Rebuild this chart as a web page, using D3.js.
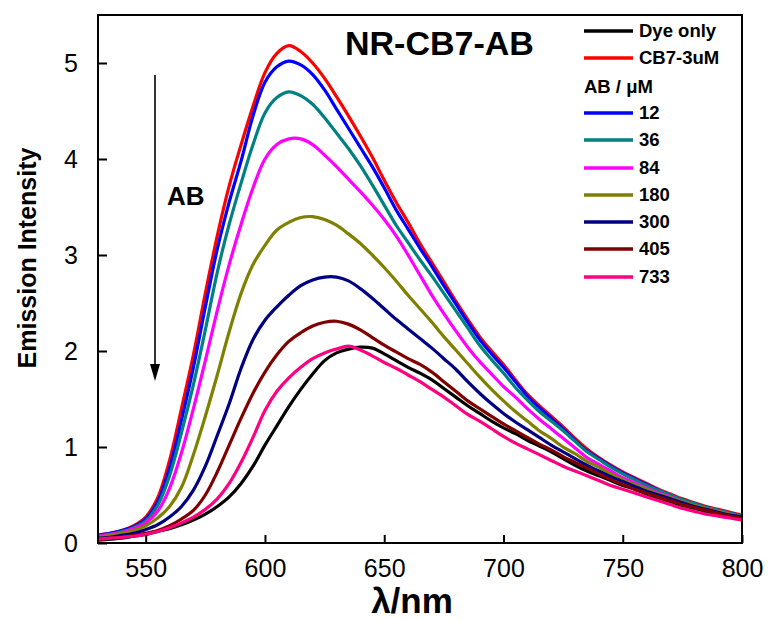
<!DOCTYPE html>
<html>
<head>
<meta charset="utf-8">
<script src="https://cdn.jsdelivr.net/npm/d3@7"></script>
<style>
  body { margin: 0; background: #fff; }
  svg text { font-family: "Liberation Sans", Arial, sans-serif; }
</style>
</head>
<body>
<svg id="chart" width="769" height="621"></svg>
<script>
// wavelength grid (nm)
var wavelengths = d3.range(530, 801, 5);

// emission intensity, one array per sample
var dyeOnly = [0.03,0.04,0.05,0.07,0.09,0.12,0.15,0.19,0.24,0.30,0.38,0.48,0.62,0.80,1.02, 1.22,1.42,1.60,1.76,1.90,1.98,2.02,2.04,2.03,1.97,1.90,1.83,1.77,1.70,1.61,1.52,1.43,1.35,1.27,1.20, 1.14,1.07,1.01,0.95,0.88,0.81,0.75,0.70,0.65,0.60,0.56,0.51,0.47,0.43,0.39,0.36,0.33,0.30,0.28,0.26];
var cb7 = [0.08,0.10,0.13,0.18,0.27,0.47,0.86,1.40,1.96,2.60,3.20,3.72,4.15,4.55,4.90, 5.10,5.18,5.12,5.00,4.84,4.65,4.45,4.24,4.02,3.78,3.55,3.34,3.12,2.92,2.72,2.52,2.33,2.15,2.00,1.86, 1.70,1.55,1.43,1.32,1.21,1.09,0.98,0.89,0.81,0.74,0.68,0.62,0.56,0.51,0.46,0.42,0.38,0.35,0.32,0.29];
var ab12 = [0.08,0.10,0.13,0.17,0.25,0.43,0.78,1.28,1.83,2.46,3.06,3.55,3.98,4.45,4.80, 4.96,5.02,4.98,4.88,4.72,4.52,4.32,4.12,3.92,3.70,3.47,3.27,3.07,2.88,2.68,2.49,2.30,2.12,1.97,1.83, 1.68,1.53,1.41,1.30,1.19,1.07,0.96,0.88,0.80,0.73,0.67,0.61,0.55,0.50,0.45,0.41,0.37,0.34,0.31,0.28];
var ab36 = [0.07,0.09,0.12,0.16,0.23,0.39,0.70,1.15,1.65,2.22,2.82,3.32,3.75,4.15,4.48, 4.64,4.70,4.66,4.57,4.43,4.27,4.11,3.93,3.73,3.52,3.31,3.13,2.95,2.78,2.60,2.42,2.24,2.06,1.91,1.77, 1.62,1.49,1.37,1.27,1.17,1.06,0.95,0.87,0.79,0.72,0.66,0.60,0.55,0.50,0.45,0.41,0.37,0.34,0.31,0.28];
var ab84 = [0.07,0.09,0.11,0.15,0.21,0.33,0.57,0.94,1.40,1.90,2.42,2.90,3.32,3.70,4.00, 4.15,4.21,4.21,4.15,4.04,3.92,3.79,3.66,3.52,3.37,3.20,3.00,2.79,2.58,2.39,2.21,2.04,1.89,1.76,1.63, 1.52,1.40,1.29,1.19,1.09,0.99,0.89,0.82,0.75,0.68,0.63,0.57,0.52,0.48,0.43,0.39,0.36,0.33,0.30,0.27];
var ab180 = [0.06,0.08,0.10,0.13,0.18,0.26,0.38,0.58,0.92,1.32,1.75,2.20,2.60,2.90,3.10, 3.26,3.34,3.39,3.40,3.37,3.31,3.22,3.12,3.00,2.87,2.73,2.58,2.44,2.30,2.15,2.01,1.87,1.73,1.60,1.48, 1.37,1.27,1.17,1.09,1.00,0.93,0.85,0.79,0.72,0.66,0.61,0.56,0.51,0.47,0.43,0.39,0.36,0.33,0.30,0.27];
var ab300 = [0.05,0.06,0.08,0.10,0.14,0.19,0.27,0.38,0.55,0.80,1.12,1.45,1.82,2.12,2.32, 2.46,2.58,2.68,2.74,2.77,2.77,2.73,2.65,2.55,2.44,2.33,2.23,2.13,2.03,1.92,1.81,1.68,1.56,1.45,1.35, 1.26,1.18,1.10,1.02,0.95,0.88,0.81,0.75,0.69,0.64,0.59,0.54,0.50,0.46,0.42,0.38,0.35,0.32,0.29,0.27];
var ab405 = [0.04,0.05,0.06,0.08,0.10,0.13,0.18,0.25,0.34,0.50,0.74,1.02,1.30,1.56,1.78, 1.96,2.10,2.19,2.26,2.30,2.31,2.28,2.22,2.14,2.06,1.99,1.92,1.86,1.78,1.68,1.58,1.48,1.40,1.32,1.24, 1.17,1.10,1.03,0.97,0.90,0.84,0.78,0.72,0.66,0.61,0.56,0.52,0.48,0.44,0.40,0.37,0.34,0.31,0.28,0.26];
var ab733 = [0.04,0.05,0.06,0.07,0.09,0.12,0.16,0.21,0.27,0.35,0.46,0.62,0.84,1.10,1.38, 1.58,1.72,1.83,1.92,1.98,2.02,2.05,2.01,1.95,1.88,1.82,1.75,1.68,1.60,1.52,1.43,1.34,1.27,1.19,1.11, 1.04,0.98,0.92,0.86,0.80,0.75,0.70,0.65,0.60,0.56,0.52,0.48,0.44,0.40,0.36,0.33,0.30,0.28,0.26,0.24];

var seriesNames = ["Dye only", "CB7-3uM", "12", "36", "84", "180", "300", "405", "733"];
var seriesColors = ["#000000", "#ff0000", "#0000ff", "#008080", "#ff00ff", "#808000", "#000080", "#800000", "#ff0080"];
var seriesValues = [dyeOnly, cb7, ab12, ab36, ab84, ab180, ab300, ab405, ab733];

var xTicks = [550, 600, 650, 700, 750, 800];
var yTicks = [0, 1, 2, 3, 4, 5];

var svg = d3.select("svg#chart");

// plot box (note: "top" is taken by window.top)
var plotL = 98, plotR = 742, plotT = 15, plotB = 543;

var x = d3.scaleLinear().domain([530, 800]).range([plotL, plotR]);
var y = d3.scaleLinear().domain([0, 5.5]).range([plotB, plotT]);

// curves
var line = d3.line()
    .x(function (d) { return x(d[0]); })
    .y(function (d) { return y(d[1]); })
    .curve(d3.curveCatmullRom.alpha(0.5));

svg.append("g")
    .selectAll("path")
    .data(seriesValues)
    .enter()
    .append("path")
    .attr("d", function (vals) {
        return line(wavelengths.map(function (w, i) { return [w, vals[i]]; }));
    })
    .attr("fill", "none")
    .attr("stroke", function (d, i) { return seriesColors[i]; })
    .attr("stroke-width", 3.2)
    .attr("stroke-linejoin", "round");

// frame
svg.append("rect")
    .attr("x", plotL).attr("y", plotT)
    .attr("width", plotR - plotL).attr("height", plotB - plotT)
    .attr("fill", "none").attr("stroke", "#000").attr("stroke-width", 2);

// axes, ticks pointing inward
var xAxis = svg.append("g")
    .attr("transform", "translate(0," + plotB + ")")
    .call(d3.axisBottom(x).tickValues(xTicks).tickSizeInner(-8).tickSizeOuter(0).tickPadding(16));
var yAxis = svg.append("g")
    .attr("transform", "translate(" + plotL + ",0)")
    .call(d3.axisLeft(y).tickValues(yTicks).tickFormat(d3.format("d"))
        .tickSizeInner(-9).tickSizeOuter(0).tickPadding(20));

[xAxis, yAxis].forEach(function (g) {
    g.select(".domain").remove();
    g.selectAll(".tick line").attr("stroke", "#000").attr("stroke-width", 2);
    g.selectAll(".tick text")
        .attr("fill", "#000")
        .style("font-family", "'Liberation Sans', Arial, sans-serif")
        .style("font-size", "25px");
});

// axis titles
svg.append("text")
    .attr("transform", "translate(36,258) rotate(-90)")
    .attr("text-anchor", "middle")
    .style("font-size", "25px").style("font-weight", "bold")
    .text("Emission Intensity");

svg.append("text")
    .attr("x", 412).attr("y", 613)
    .attr("text-anchor", "middle")
    .style("font-size", "35px").style("font-weight", "bold")
    .text("λ/nm");

// title
svg.append("text")
    .attr("x", 345).attr("y", 55)
    .style("font-size", "34px").style("font-weight", "bold")
    .text("NR-CB7-AB");

// arrow and label
svg.append("line")
    .attr("x1", 155).attr("y1", 75).attr("x2", 155).attr("y2", 368)
    .attr("stroke", "#000").attr("stroke-width", 1.6);
svg.append("path")
    .attr("d", "M150,364 L160,364 L155,381 Z")
    .attr("fill", "#000");
svg.append("text")
    .attr("x", 167).attr("y", 205)
    .style("font-size", "26px").style("font-weight", "bold")
    .text("AB");

// legend
var legendRows = [31, 58, 113, 140, 168, 195, 222, 249, 277];
var legend = svg.append("g");
seriesNames.forEach(function (name, i) {
    legend.append("line")
        .attr("x1", 584).attr("x2", 633)
        .attr("y1", legendRows[i]).attr("y2", legendRows[i])
        .attr("stroke", seriesColors[i]).attr("stroke-width", 3.5);
    legend.append("text")
        .attr("x", 639).attr("y", legendRows[i])
        .attr("dy", "0.35em")
        .style("font-size", "18.5px").style("font-weight", "bold")
        .text(name);
});
legend.append("text")
    .attr("x", 584).attr("y", 87)
    .attr("dy", "0.35em")
    .style("font-size", "18.5px").style("font-weight", "bold")
    .text("AB / μM");
</script>
</body>
</html>
